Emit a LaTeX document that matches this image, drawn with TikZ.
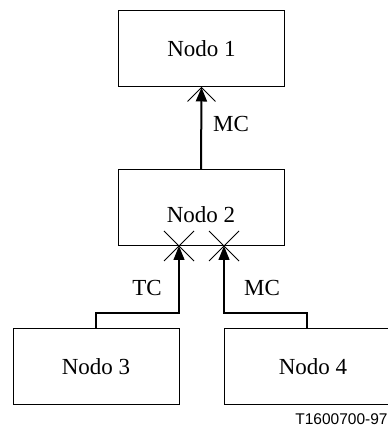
\documentclass[tikz,border=0pt]{standalone}
\usepackage{fontspec}
\setmainfont{Liberation Serif}
\newfontfamily\tagfont{Liberation Sans}
\usetikzlibrary{arrows.meta,positioning,calc}
\tikzset{
  nodebox/.style={draw, line width=0.5pt, minimum width=83pt, minimum height=38pt, inner sep=0pt},
  uplink/.style={-{Triangle[length=7pt,width=5.5pt]}, line width=1pt},
  link/.style={-{Triangle[length=7pt,width=5.5pt]}, line width=0.6pt},
  crossmark/.style={line width=0.45pt},
  lbl/.style={inner sep=0pt},
}

\begin{document}
\begin{tikzpicture}[x=0.5pt, y=0.5pt, font=\fontsize{11.5pt}{13pt}\selectfont]
    \useasboundingbox (0,0) rectangle (387,426);
    % boxes
    \node[nodebox] (n1) at (201.5,377) {Nodo 1};
    \node[nodebox, label={[lbl, yshift=-3.75pt]center:Nodo 2}] (n2) at (201,218.5) {};
    \node[nodebox] (n3) at (96,59.5) {Nodo 3};
    \node[nodebox, minimum width=89pt] (n4) at (313,59.5) {Nodo 4};
    % entry points on Nodo 2
    \coordinate (tcin) at (179,180);
    \coordinate (mcin) at (224,180);
    \coordinate (mcout) at ([xshift=-3pt]n4.north);
    % connectors
    \draw[uplink] (n2.north) -- (n1.south);
    \draw[link] (n3.north) -- ++(0,15) -| (tcin);
    \draw[link] (mcout) -- ++(0,15) -| (mcin);
    % crosses at the arrow tips
    \draw[crossmark] (n1.south) ++(-14,-14) -- ++(14,14) -- ++(14,-14);
    \foreach \p in {tcin,mcin}
      \draw[crossmark] (\p) +(-15,-15) -- +(15,15) +(-15,15) -- +(15,-15);
    % labels
    \node[lbl] (mc1) at (231,302) {MC};
    \node[lbl] (tc) at (147,138) {TC};
    \node[lbl] (mc2) at (262,138) {MC};
    \node[lbl, anchor=base west, font=\tagfont\fontsize{7.75pt}{9pt}\selectfont] (tag) at (295,2) {T1600700-97};
  \end{tikzpicture}
\end{document}
